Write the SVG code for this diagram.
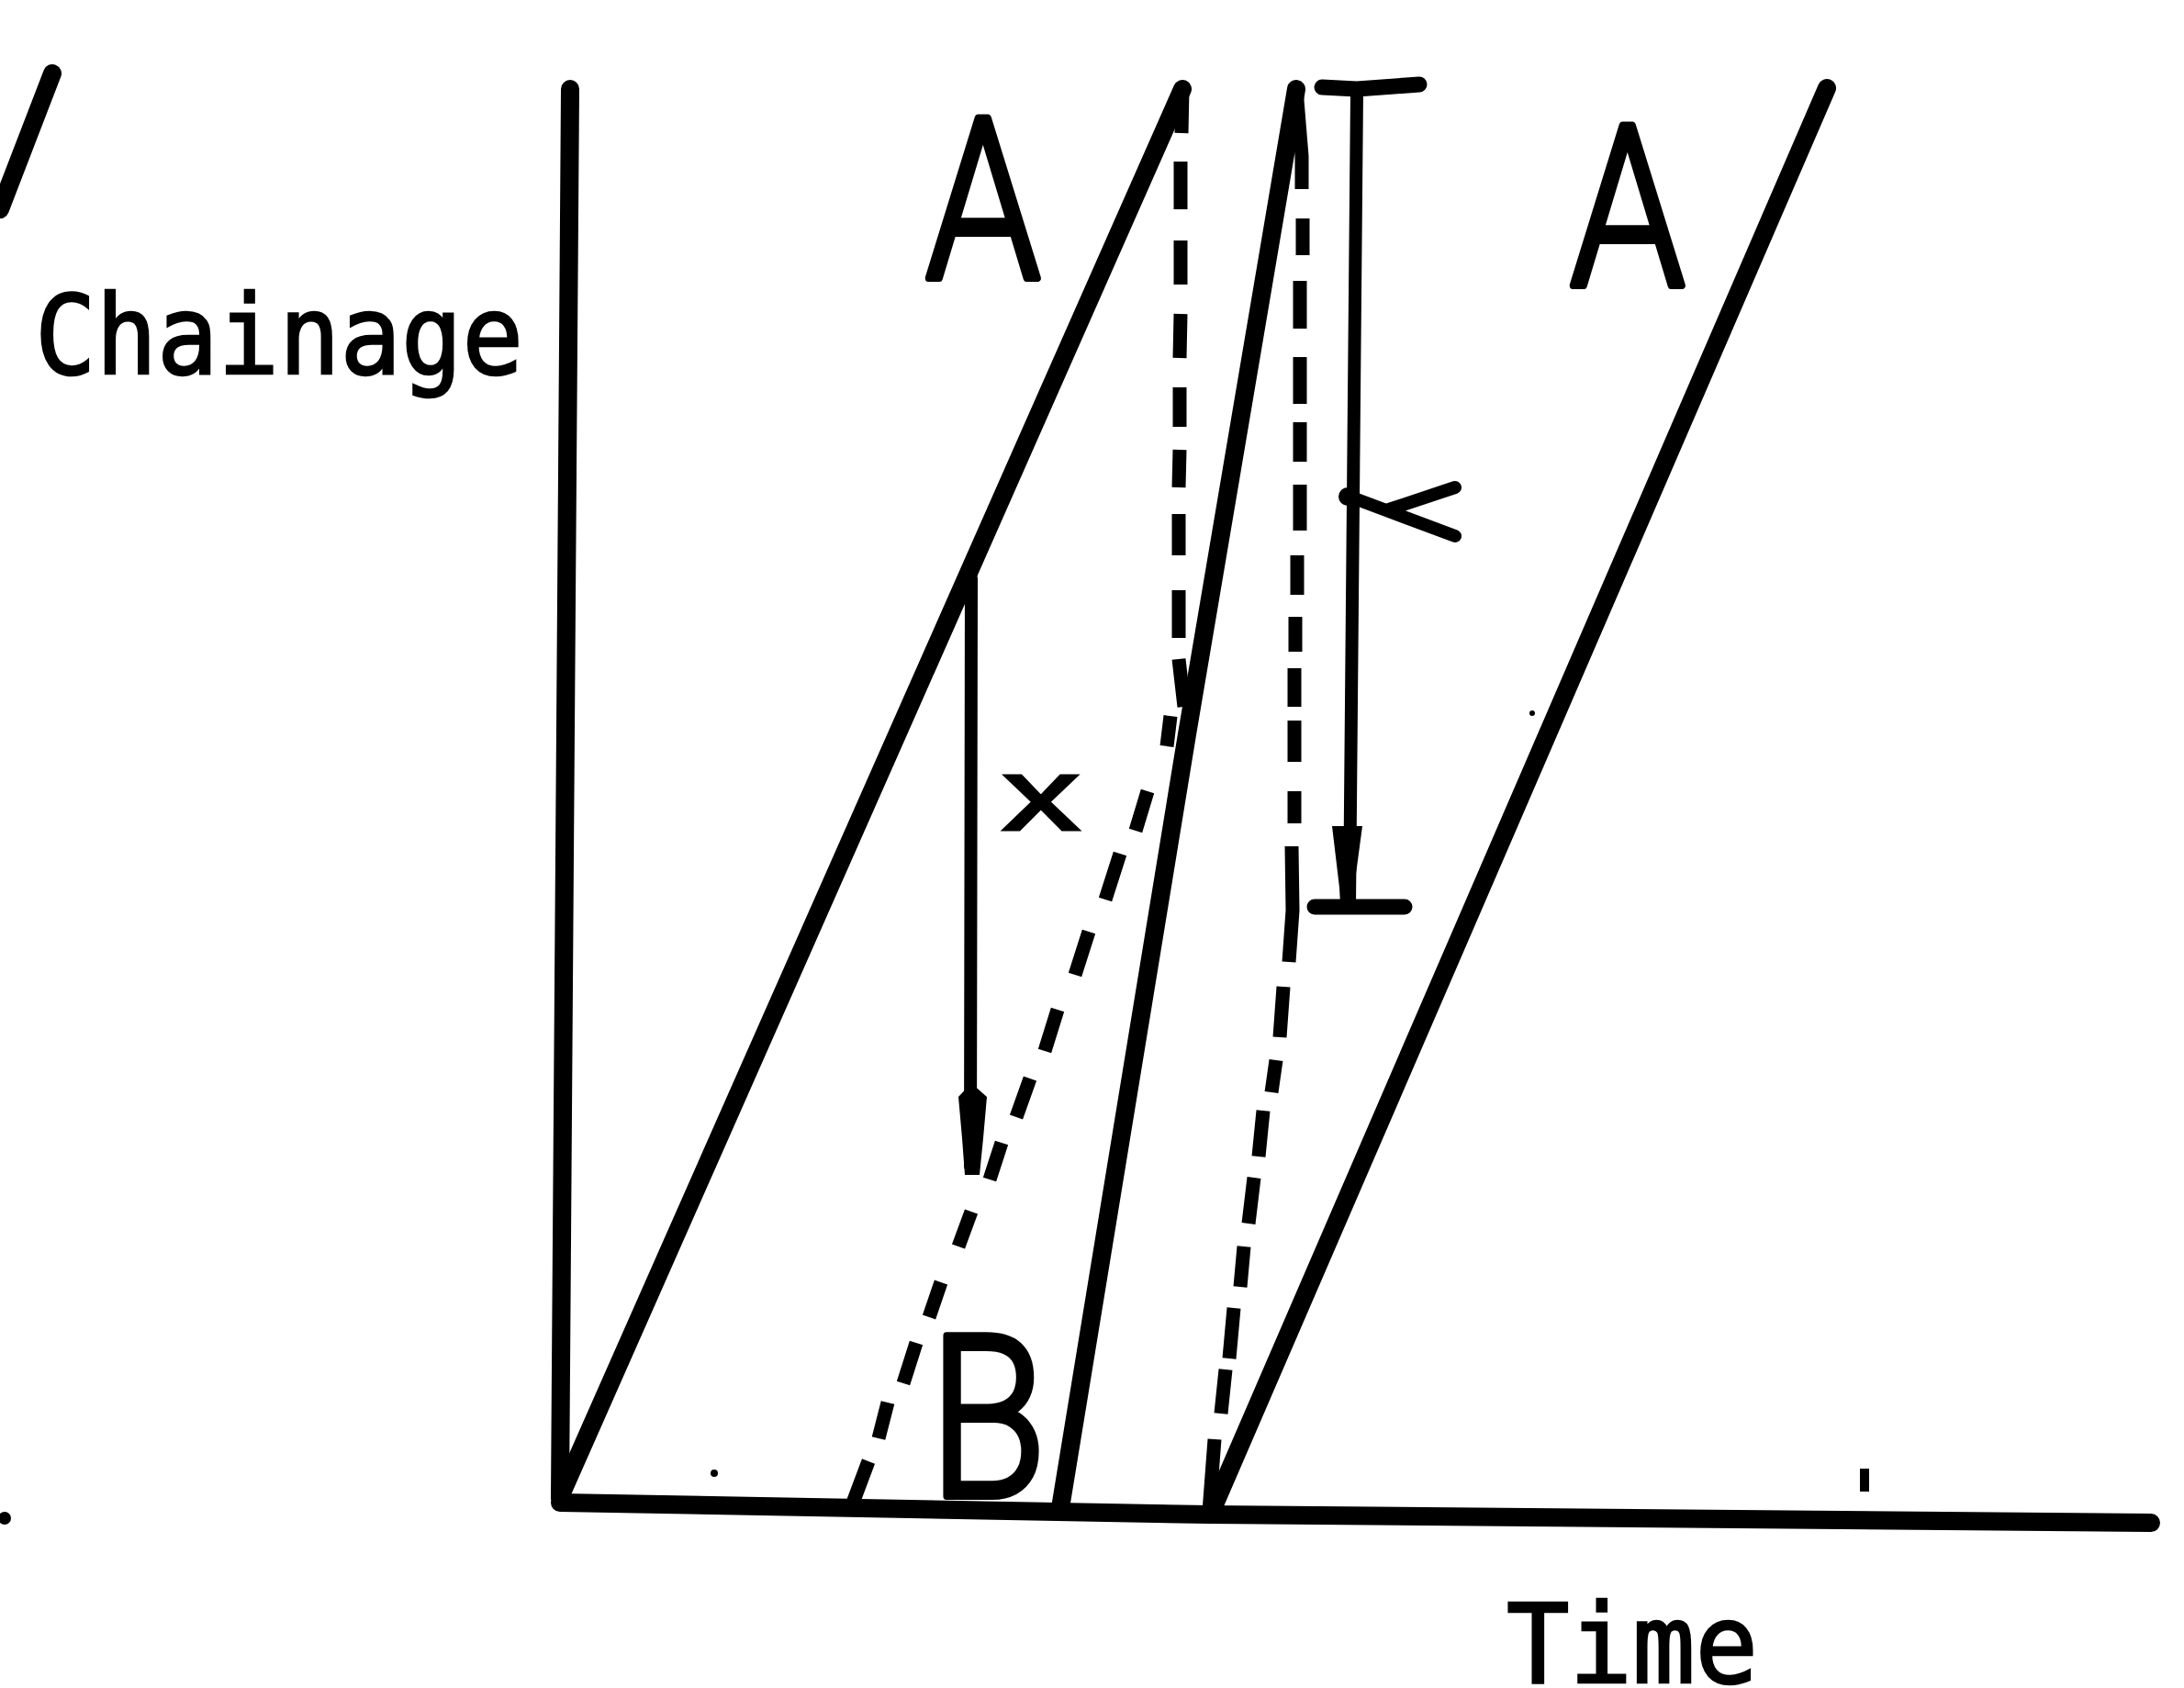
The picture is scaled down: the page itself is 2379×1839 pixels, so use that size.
<svg xmlns="http://www.w3.org/2000/svg" width="2379" height="1839" viewBox="0 0 2379 1839">
<style>
.s{fill:none;stroke:#000;stroke-linecap:round;stroke-linejoin:round}
.t{stroke-width:20}.m{stroke-width:14}.d{stroke-width:15;stroke-linecap:butt}
.mono{font-family:"DejaVu Sans Mono","Liberation Mono",monospace;font-size:120px;fill:#000;stroke:#000;stroke-width:2.5}
.big{font-family:"Roboto","Liberation Sans",sans-serif;font-weight:300;font-size:245px;fill:#000;stroke:#000;stroke-width:8;stroke-linejoin:round}
</style>
<rect width="2379" height="1839" fill="#fff"/>
<g id="connectors">
<path id="fragment" class="s t" d="M57 80L0 228"/>
<path id="y-axis" class="s t" d="M621 97L610 1631"/>
<path id="x-axis" class="s" stroke-width="20" d="M610 1637L1317 1650L2343 1659"/>
<path id="line-a1" class="s t" d="M1288 97L610 1631"/>
<path id="line-a2" class="s t" d="M1990 96L1320 1646"/>
<path id="line-b" class="s t" d="M1412 97L1293 800L1155 1643"/>
<path id="dash-1" class="s d" d="M1288 97L1287 145M1286 176L1286 228M1286 262L1286 310M1286 342L1285 390M1285 422L1285 465M1285 490L1284 531M1284 560L1284 605M1284 643L1284 695M1284 718L1290 770M1275 780L1271 813M1250 862L1237 905M1220 930L1204 980M1186 1015L1171 1062M1152 1100L1138 1145M1122 1175L1107 1217M1091 1245L1078 1285M1058 1320L1044 1358M1025 1397L1012 1435M998 1463L984 1507M967 1528L957 1567M946 1592L928 1640"/>
<path id="dash-2" class="s d" d="M1412 97L1418 170L1418 206M1419 238L1419 278M1416 306L1416 358M1416 389L1416 440M1416 460L1416 503M1416 528L1416 578M1413 605L1413 648M1411 672L1411 710M1410 728L1410 770M1410 785L1410 830M1410 862L1410 897M1407 922L1408 992L1404 1048M1398 1075L1394 1130M1390 1155L1385 1190M1376 1210L1371 1260M1366 1283L1360 1333M1355 1358L1351 1402M1344 1425L1339 1480M1335 1492L1330 1540M1323 1568L1317 1647"/>
</g>
<g id="dimension-x">
<path class="s m" d="M1058 630L1057 1270"/>
<path d="M1044 1195L1058 1180L1075 1195L1071 1240L1067 1280L1051 1280L1048 1240Z" fill="#000"/>
</g>
<g id="dimension-y">
<path class="s" stroke-width="17" d="M1440 95L1478 97L1546 92M1432 988L1530 988"/>
<path class="s m" d="M1478 100L1470 988"/>
<path d="M1451 900L1484 900L1475 967L1475 985L1460 985L1459 967Z" fill="#000"/>
<circle cx="1468" cy="541" r="10" fill="#000"/>
<path class="s m" d="M1470 541L1510 556L1585 531M1510 556L1585 584"/>
</g>
<g id="specks" fill="#000">
<circle cx="5" cy="1654" r="7"/>
<circle cx="778" cy="1605" r="4"/>
<circle cx="1669" cy="777" r="3"/>
<rect x="2026" y="1600" width="10" height="25"/>
</g>
<g id="label-a1"><text class="big" transform="translate(1008 303) scale(.82 1)">A</text></g>
<g id="label-a2"><text class="big" transform="translate(1710 311) scale(.82 1)">A</text></g>
<g id="label-b"><text class="big" transform="translate(1012 1630) scale(.85 1)">B</text></g>
<g id="label-x"><text transform="translate(1092 904) scale(1.5 1)" style="font-family:'Liberation Sans',sans-serif;font-size:112px;fill:#000;stroke:#000;stroke-width:3">x</text></g>
<g id="label-chainage"><text class="mono" x="38" y="407" textLength="532" lengthAdjust="spacingAndGlyphs">Chainage</text></g>
<g id="label-time"><text class="mono" x="1641" y="1833" textLength="274" lengthAdjust="spacingAndGlyphs">Time</text></g>
</svg>
